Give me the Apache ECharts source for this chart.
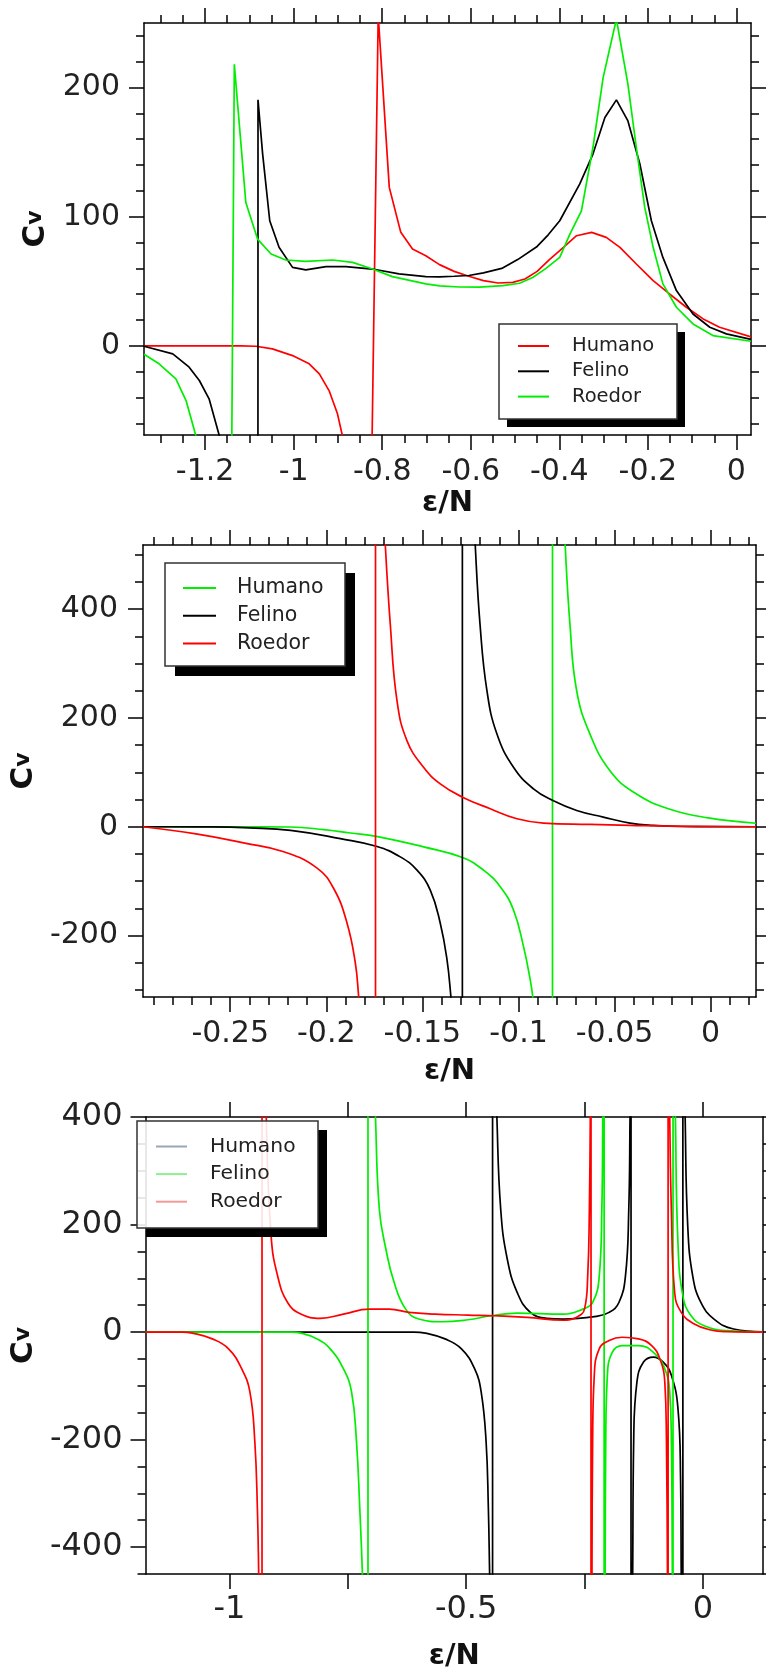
<!DOCTYPE html>
<html>
<head>
<meta charset="utf-8">
<script src="https://cdn.jsdelivr.net/npm/echarts@6/dist/echarts.min.js"></script>
<style>
html,body{margin:0;padding:0;background:#fff;}
#chart{width:766px;height:1672px;}
</style>
</head>
<body>
<div id="chart"></div>
<script>
// ---------------- DATA ----------------
const SERIES_NAMES = ['Humano', 'Felino', 'Roedor'];

// Panel 1 ticks
const P1_X_LABELS = [-1.2, -1, -0.8, -0.6, -0.4, -0.2, 0];
const P1_X_MINOR = [-1.3, -1.25, -1.15, -1.1, -1.05, -0.95, -0.9, -0.85, -0.75, -0.7, -0.65, -0.55, -0.5, -0.45, -0.35, -0.3, -0.25, -0.15, -0.1, -0.05];
const P1_Y_LABELS = [0, 100, 200];
const P1_Y_MINOR = [-60, -40, -20, 20, 40, 60, 80, 120, 140, 160, 180, 220, 240];

// Panel 1 curves (Humano red, Felino black, Roedor green)
const p1HumanoX = [-1.338, -1.2, -1.12, -1.085, -1.048, -1.0025, -0.965, -0.942, -0.92, -0.901, -0.89, -0.87, -0.835, -0.809, -0.784, -0.758, -0.7315, -0.7015, -0.6706, -0.6375, -0.6044, -0.5713, -0.5382, -0.5051, -0.4776, -0.45, -0.4224, -0.399, -0.361, -0.327, -0.294, -0.263, -0.226, -0.188, -0.151, -0.113, -0.075, -0.038, 0.033];
const p1HumanoY = [0, 0, 0, -0.3, -2.3, -7.5, -13.9, -21.7, -34.6, -52.6, -69.4, -150, -360, 256, 122.7, 87.9, 75, 69.8, 62.9, 57.7, 53.9, 50.5, 48.7, 49.2, 51.8, 57.7, 66.8, 73.7, 85.3, 87.9, 84, 76.3, 63.4, 50.5, 40.2, 29.9, 20.9, 14.4, 7];
const p1FelinoX = [-1.338, -1.273, -1.236, -1.213, -1.191, -1.168, -1.15, -1.12, -1.0828, -1.0805, -1.07, -1.054, -1.033, -1.0025, -0.9725, -0.927, -0.882, -0.822, -0.762, -0.7015, -0.6706, -0.6375, -0.6044, -0.5713, -0.53, -0.494, -0.45, -0.425, -0.399, -0.354, -0.324, -0.297, -0.271, -0.245, -0.218, -0.192, -0.166, -0.1355, -0.098, -0.06, -0.0226, 0.033];
const p1FelinoY = [-0.3, -6.2, -16.5, -26.8, -41, -69.4, -110, -300, -5000, 190.5, 148.5, 96.9, 76.3, 60.8, 58.8, 61.3, 61.3, 59.5, 55.7, 53.6, 53.4, 53.9, 54.5, 56.5, 60, 66.8, 77, 86, 96.9, 125.3, 148.5, 176.8, 190.5, 174.2, 140.8, 96.9, 68.5, 42.8, 24.7, 14.4, 9.3, 5];
const p1RoedorX = [-1.338, -1.304, -1.266, -1.243, -1.221, -1.2, -1.17, -1.16, -1.134, -1.108, -1.0815, -1.051, -1.018, -0.973, -0.912, -0.867, -0.822, -0.777, -0.7015, -0.67, -0.626, -0.58, -0.527, -0.49, -0.46, -0.43, -0.399, -0.376, -0.35, -0.324, -0.301, -0.271, -0.245, -0.226, -0.207, -0.188, -0.166, -0.1355, -0.098, -0.053, 0.033];
const p1RoedorY = [-6.5, -13.9, -25.5, -42.3, -69.4, -110, -250, -1113, 218, 111, 82.7, 71.1, 66.5, 65.4, 66.5, 64.7, 59.5, 53.6, 48, 46.5, 45.6, 45.5, 46.6, 48.5, 53, 60, 68.5, 86.6, 104.6, 153.6, 207.7, 253, 202.6, 153.6, 107.2, 76.3, 48, 29.9, 17, 8, 3.6];

// Panel 2 ticks
const P2_X_LABELS = [-0.25, -0.2, -0.15, -0.1, -0.05, 0];
const P2_X_MINOR = [-0.29, -0.28, -0.27, -0.26, -0.24, -0.23, -0.22, -0.21, -0.19, -0.18, -0.17, -0.16, -0.14, -0.13, -0.12, -0.11, -0.09, -0.08, -0.07, -0.06, -0.04, -0.03, -0.02, -0.01, 0.01, 0.02];
const P2_Y_LABELS = [-200, 0, 200, 400];
const P2_Y_MINOR = [-300, -250, -150, -100, -50, 50, 100, 150, 250, 300, 350, 450, 500];

// Panel 2 curves (Humano green, Felino black, Roedor red); null = break between branches
const p2HumanoX = [-0.2954, -0.25, -0.2186, -0.2013, -0.1875, -0.174, -0.1494, -0.1291, -0.1182, -0.1095, -0.1026, -0.0974, -0.0939, -0.0925, -0.092, null, -0.0823, -0.0823, null, -0.0762, -0.0757, -0.0732, -0.0697, -0.0628, -0.0524, -0.0394, -0.0216, -0.0012, 0.0236];
const p2HumanoY = [0, -0.3, -0.5, -5.3, -11.5, -17.6, -37, -56.6, -79.8, -110.3, -153, -220, -281, -314.6, -340, null, -330, 540, null, 580, 518, 371.7, 249.6, 170.4, 103, 62, 32.6, 16.3, 6.4];
const p2FelinoX = [-0.2954, -0.26, -0.24, -0.2186, -0.1927, -0.174, -0.1615, -0.1528, -0.1459, -0.1407, -0.1372, -0.1351, -0.1345, null, -0.1292, -0.1292, null, -0.1229, -0.1225, -0.12, -0.1164, -0.1112, -0.1026, -0.0922, -0.0821, -0.0697, -0.0559, -0.042, -0.03, -0.015, 0.0236];
const p2FelinoY = [0, -0.3, -2, -6.6, -21.8, -35.9, -55.4, -79.8, -116.4, -177.3, -244.5, -314.6, -340, null, -330, 540, null, 570, 518, 371.7, 249.6, 170.4, 109.3, 69.7, 48.3, 30, 17.8, 6.8, 2.5, 0.5, 0];
const p2RoedorX = [-0.2954, -0.2678, -0.2424, -0.2221, -0.2048, -0.1961, -0.1892, -0.1849, -0.1831, -0.1825, null, -0.1744, -0.1744, null, -0.1697, -0.1693, -0.1667, -0.1632, -0.158, -0.1494, -0.1407, -0.1291, -0.1147, -0.1008, -0.087, -0.0628, -0.042, -0.02, 0.0236];
const p2RoedorY = [0, -13.2, -30, -46, -76, -114, -177.3, -250.5, -314.6, -340, null, -330, 540, null, 570, 518, 371.7, 231.3, 158, 109.3, 78.9, 54.4, 33.1, 14.8, 6.8, 4.4, 2.6, 1, 0];

// Panel 3 ticks
const P3_X_LABELS = [-1, -0.5, 0];
const P3_X_TICKS = [-1, -0.75, -0.5, -0.25, 0];
const P3_Y_LABELS = [-400, -200, 0, 200, 400];
const P3_Y_MINOR = [-450, -350, -300, -250, -150, -100, -50, 50, 100, 150, 250, 300, 350];

// Panel 3 curves (Humano black, Felino green, Roedor red); null = break between branches
const p3HumanoX = [-1.177, -0.61, -0.586, -0.5445, -0.5098, -0.4821, -0.4682, -0.4578, -0.453, -0.4503, -0.4488, null, -0.4441, -0.4441, null, -0.4357, -0.435, -0.4268, -0.4129, -0.392, -0.3643, -0.3297, -0.295, -0.2258, -0.198, -0.1773, -0.1635, -0.1565, -0.1538, -0.1532, null, -0.1517, -0.1517, null, -0.1487, -0.1482, -0.1461, -0.1392, -0.1253, -0.1045, -0.0837, -0.0665, -0.0526, -0.0472, -0.0457, -0.0452, null, -0.0422, -0.0422, null, -0.0378, -0.0374, -0.0319, -0.0214, -0.0042, 0.0235, 0.065, 0.127];
const p3HumanoY = [0, 0, -2, -12.7, -31.2, -68.2, -111.2, -203.6, -326.8, -450, -520, null, -470, 420, null, 440, 400, 227, 135, 73.5, 36.6, 25.5, 24.2, 29.2, 36.6, 55, 104, 227, 400, 460, null, 420, -470, null, -520, -450, -203.6, -92.8, -55.8, -46.6, -55.8, -80.5, -142, -265.3, -450, -520, null, -470, 420, null, 440, 400, 196.6, 104.2, 55, 24.2, 5.7, 0.5];
const p3FelinoX = [-1.177, -0.87, -0.849, -0.8146, -0.787, -0.7592, -0.7419, -0.7315, -0.7246, -0.719, -0.7175, null, -0.7072, -0.7072, null, -0.6922, -0.6914, -0.6831, -0.6692, -0.6519, -0.6276, -0.6, -0.5513, -0.496, -0.4474, -0.392, -0.295, -0.2535, -0.2327, -0.2188, -0.2134, -0.2113, -0.2108, null, -0.2085, -0.2085, null, -0.2068, -0.2064, -0.2051, -0.2016, -0.1912, -0.1704, -0.1357, -0.1012, -0.0804, -0.07, -0.0665, -0.0644, -0.064, null, -0.063, -0.063, null, -0.0585, -0.058, -0.0526, -0.0422, -0.0249, 0.0028, 0.0513, 0.127];
const p3FelinoY = [0, 0, -2, -12.7, -31.2, -68.2, -111.2, -203.6, -326.8, -450, -520, null, -470, 420, null, 440, 400, 227, 153.5, 92, 42.7, 24.2, 19.2, 22.9, 30.3, 35.3, 33.4, 42.7, 55, 104, 227, 400, 460, null, 420, -470, null, -520, -450, -203.6, -80.5, -37.3, -25.1, -25.1, -40.5, -68.2, -111.2, -203.6, -450, -520, null, -470, 420, null, 440, 400, 166, 67.3, 30.3, 11.8, 2.6, 0];
const p3RoedorX = [-1.177, -1.1, -1.078, -1.036, -1.0017, -0.974, -0.9566, -0.9462, -0.9408, -0.938, -0.9372, null, -0.931, -0.931, null, -0.9225, -0.922, -0.9117, -0.898, -0.877, -0.8493, -0.8078, -0.7592, -0.7039, -0.6623, -0.6207, -0.5653, -0.496, -0.4406, -0.3713, -0.295, -0.2674, -0.25, -0.2432, -0.2397, -0.2377, -0.2372, null, -0.2362, -0.2362, null, -0.2346, -0.2342, -0.2328, -0.2293, -0.2189, -0.198, -0.1704, -0.1357, -0.1081, -0.0908, -0.0804, -0.0769, -0.0748, -0.0744, null, -0.0734, -0.0734, null, -0.0704, -0.07, -0.0665, -0.0596, -0.0457, -0.0181, 0.0166, 0.0513, 0.127];
const p3RoedorY = [0, 0, -2, -12.7, -31.2, -68.2, -111.2, -203.6, -326.8, -450, -520, null, -470, 420, null, 440, 400, 178, 104.2, 55, 33.4, 25.5, 33.4, 42.7, 42.7, 36.6, 33.4, 31.6, 30.3, 27.3, 22, 27.3, 42.7, 104, 227, 400, 460, null, 420, -470, null, -520, -450, -203.6, -80.5, -31.2, -15.8, -9.7, -12.7, -25.1, -49.7, -92.8, -203.6, -450, -520, null, -470, 420, null, 440, 400, 227, 73.5, 36.6, 15, 3.9, 0.8, 0];

// ---------------- STYLE / BUILD ----------------
const FONT = 'DejaVu Sans';
const RED = '#ff0000', BLACK = '#000000', GREEN = '#00ee00';
const zip = (xs, ys) => xs.map((x, i) => (x === null ? ['-', '-'] : [x, ys[i]]));

const panels = [
  { grid: {left: 144, top: 23, width: 607, height: 412},
    xr: [-1.338, 0.033], yr: [-69, 250],
    xLabels: P1_X_LABELS, xMajor: P1_X_LABELS, xMinor: P1_X_MINOR,
    yLabels: P1_Y_LABELS, yMajor: P1_Y_LABELS, yMinor: P1_Y_MINOR,
    fs: 30, xMargin: 22, yMargin: 24, xNameGap: 54, yNameGap: 93, smooth: 0,
    series: [[p1HumanoX, p1HumanoY, RED], [p1FelinoX, p1FelinoY, BLACK], [p1RoedorX, p1RoedorY, GREEN]],
    box: {x: 499, y: 324, w: 178, h: 95, sh: 8, fill: '#ffffff'},
    legend: {left: 518, top: 336, itemGap: 5.3, iw: 31, fs: 19.5, pad: 18} },
  { grid: {left: 142, top: 545, width: 614, height: 452},
    xr: [-0.2954, 0.0236], yr: [-313, 518],
    xLabels: P2_X_LABELS, xMajor: P2_X_LABELS, xMinor: P2_X_MINOR,
    yLabels: P2_Y_LABELS, yMajor: P2_Y_LABELS, yMinor: P2_Y_MINOR,
    fs: 30, xMargin: 22, yMargin: 25, xNameGap: 60, yNameGap: 100, smooth: 0.45,
    series: [[p2HumanoX, p2HumanoY, GREEN], [p2FelinoX, p2FelinoY, BLACK], [p2RoedorX, p2RoedorY, RED]],
    box: {x: 165, y: 563, w: 180, h: 103, sh: 10, fill: '#ffffff'},
    legend: {left: 183, top: 577.5, itemGap: 6.8, iw: 33, fs: 20.5, pad: 16} },
  { grid: {left: 136, top: 1117, width: 627, height: 460},
    xr: [-1.177, 0.127], yr: [-450, 400],
    xLabels: P3_X_LABELS, xMajor: P3_X_TICKS, xMinor: [],
    yLabels: P3_Y_LABELS, yMajor: P3_Y_LABELS, yMinor: P3_Y_MINOR,
    fs: 32, xMargin: 20, yMargin: 23, xNameGap: 68, yNameGap: 94, smooth: 0.45,
    series: [[p3HumanoX, p3HumanoY, BLACK], [p3FelinoX, p3FelinoY, GREEN], [p3RoedorX, p3RoedorY, RED]],
    legendColors: ['#9aa6b6', '#8fee8f', '#f29a9a'],
    box: {x: 137, y: 1121, w: 181, h: 107, sh: 9, fill: 'rgba(255,255,255,0.88)'},
    legend: {left: 156, top: 1136.5, itemGap: 7.6, iw: 31, fs: 20.3, pad: 18} }
];

const grids = [], xAxes = [], yAxes = [], series = [], legends = [], graphics = [];
const LINE = {color: '#000', width: 1.5};

panels.forEach((p, pi) => {
  grids.push(Object.assign({containLabel: false}, p.grid));
  const xBase = xAxes.length, yBase = yAxes.length;
  const tickAxis = (pos, vals, len, showLine) => ({
    type: 'value', gridIndex: pi,
    min: (pos === 'bottom' || pos === 'top') ? p.xr[0] : p.yr[0],
    max: (pos === 'bottom' || pos === 'top') ? p.xr[1] : p.yr[1],
    position: pos, splitLine: {show: false},
    axisLine: {show: showLine, onZero: false, lineStyle: LINE},
    axisTick: {show: vals.length > 0, inside: false, length: len, customValues: vals, lineStyle: LINE},
    axisLabel: {show: false}
  });
  // X axes
  const xMain = tickAxis('bottom', p.xMajor, 15, true);
  xMain.axisLabel = {show: true, customValues: p.xLabels, margin: p.xMargin, fontSize: p.fs, fontFamily: FONT, color: '#222', formatter: v => String(v)};
  xMain.name = 'ε/N';
  xMain.nameLocation = 'middle';
  xMain.nameGap = p.xNameGap;
  xMain.nameTextStyle = {fontSize: 29, fontWeight: 'bold', fontFamily: FONT, color: '#111'};
  xAxes.push(xMain);
  xAxes.push(tickAxis('bottom', p.xMinor, 8, false));
  xAxes.push(tickAxis('top', p.xMajor, 15, true));
  xAxes.push(tickAxis('top', p.xMinor, 8, false));
  // Y axes
  const yMain = tickAxis('left', p.yMajor, 15, true);
  yMain.axisLabel = {show: true, customValues: p.yLabels, margin: p.yMargin, fontSize: p.fs, fontFamily: FONT, color: '#222', formatter: v => String(v)};
  yMain.name = '{c|C}{v|v}';
  yMain.nameLocation = 'middle';
  yMain.nameGap = p.yNameGap;
  yMain.nameRotate = 90;
  yMain.nameTextStyle = {fontFamily: FONT, color: '#111', rich: {
    c: {fontSize: 31, fontWeight: 'bold', fontFamily: FONT, color: '#111'},
    v: {fontSize: 22, fontWeight: 'bold', fontFamily: FONT, color: '#111'}}};
  yAxes.push(yMain);
  yAxes.push(tickAxis('left', p.yMinor, 8, false));
  yAxes.push(tickAxis('right', p.yMajor, 15, true));
  yAxes.push(tickAxis('right', p.yMinor, 8, false));

  const suffix = ' '.repeat(pi);
  const legendData = [];
  p.series.forEach((s, si) => {
    const nm = SERIES_NAMES[si] + suffix;
    series.push({
      name: nm, type: 'line', xAxisIndex: xBase, yAxisIndex: yBase,
      data: zip(s[0], s[1]), showSymbol: false, symbol: 'none', clip: true,
      connectNulls: false, animation: false,
      smooth: p.smooth,
      lineStyle: {color: s[2], width: 1.7}, itemStyle: {color: s[2]}, z: 3
    });
    const d = {name: nm};
    if (p.legendColors) d.itemStyle = {color: p.legendColors[si], borderWidth: 0};
    legendData.push(d);
  });

  // legend frame with hard drop shadow
  const B = p.box;
  graphics.push({type: 'rect', z: 5, silent: true, shape: {x: B.x + B.w, y: B.y + B.sh, width: B.sh, height: B.h}, style: {fill: '#000'}});
  graphics.push({type: 'rect', z: 5, silent: true, shape: {x: B.x + B.sh, y: B.y + B.h, width: B.w, height: B.sh}, style: {fill: '#000'}});
  graphics.push({type: 'rect', z: 5, silent: true, shape: {x: B.x, y: B.y, width: B.w, height: B.h}, style: {fill: B.fill, stroke: '#333', lineWidth: 1.5}});

  const L = p.legend;
  legends.push({
    orient: 'vertical', left: L.left, top: L.top, padding: 0, itemGap: L.itemGap,
    itemWidth: L.iw, itemHeight: 2, icon: 'rect', data: legendData, selectedMode: false,
    backgroundColor: 'transparent', borderWidth: 0,
    itemStyle: {borderWidth: 0},
    formatter: n => '{t|' + n.trim() + '}',
    textStyle: {fontSize: L.fs, fontFamily: FONT, color: '#222',
      rich: {t: {fontSize: L.fs, fontFamily: FONT, color: '#222', padding: [0, 0, 0, L.pad]}}},
    z: 10
  });
});

const chart = echarts.init(document.getElementById('chart'), null, {renderer: 'canvas', width: 766, height: 1672});
chart.setOption({
  animation: false,
  backgroundColor: '#ffffff',
  grid: grids, xAxis: xAxes, yAxis: yAxes, series: series, legend: legends,
  graphic: {elements: graphics}
});
</script>
</body>
</html>
